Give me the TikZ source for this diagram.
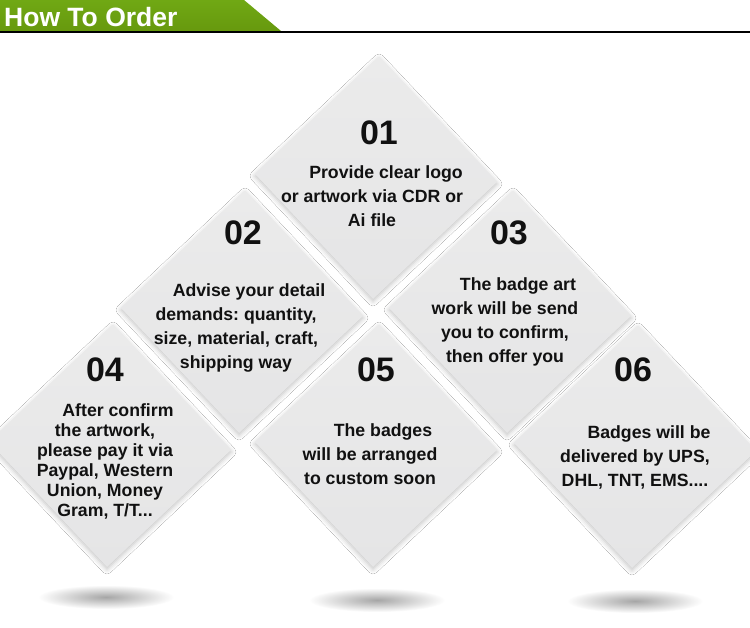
\documentclass[tikz,border=0pt]{standalone}
\usepackage{fontspec}
\setmainfont{Liberation Sans}
\usetikzlibrary{shadows.blur}
\frenchspacing
\definecolor{hdgreenA}{HTML}{70A814}
\definecolor{hdgreenB}{HTML}{67990E}
\definecolor{tileA}{HTML}{EBEBEB}
\definecolor{tileB}{HTML}{E5E5E6}
\definecolor{inkc}{HTML}{111111}
\newcommand\mytile[2]{\shade[tile] (#1+3,#2-121) -- (#1+121,#2+4) -- (#1-3,#2+121) -- (#1-121,#2-4) -- cycle;}
\begin{document}
\begin{tikzpicture}[x=1pt,y=-1pt,
  tile/.style={top color=tileA, bottom color=tileB,
    blur shadow={shadow xshift=0pt, shadow yshift=-2pt, shadow blur radius=5pt, shadow opacity=25}},
  numtxt/.style={font=\bfseries\fontsize{34}{34}\selectfont, text=inkc, inner sep=0pt},
  bodytxt/.style={font=\bfseries\fontsize{17.7}{24}\selectfont, text=inkc, align=center, inner sep=0pt},
  tighttxt/.style={bodytxt, font=\bfseries\fontsize{17.7}{20}\selectfont},
  floor/.style={inner color=black!35, outer color=white},
  headtxt/.style={font=\bfseries\fontsize{26.5}{26.5}\selectfont, text=white, inner sep=0pt, anchor=base west}]
\useasboundingbox (0,0) rectangle (750,628);
\clip (0,0) rectangle (750,628);
\fill[white] (0,0) rectangle (750,628);
% header
\shade[top color=hdgreenA, bottom color=hdgreenB] (0,0) -- (244,0) -- (281,31) -- (0,31) -- cycle;
\draw[line width=2pt, black] (0,32) -- (750,32);
\node[headtxt] (title) at (4,27) {How To Order};
% floor shadows
\shade[floor] (106,597) ellipse [x radius=68, y radius=12];
\shade[floor] (377,600) ellipse [x radius=68, y radius=12];
\shade[floor] (635,601) ellipse [x radius=68, y radius=12];
% tiles
\mytile{376}{178}
\mytile{242}{312}
\mytile{510}{312}
\mytile{110}{446}
\mytile{376}{446}
\mytile{635}{447}
% numbers
\node[numtxt] (n1) at (379,133) {01};
\node[numtxt] (n2) at (243,233) {02};
\node[numtxt] (n3) at (509,233) {03};
\node[numtxt] (n4) at (105,370) {04};
\node[numtxt] (n5) at (376,370) {05};
\node[numtxt] (n6) at (633,370) {06};
% texts
\node[bodytxt] (t1) at (372,196) {\hspace*{28pt}Provide clear logo\\or artwork via CDR or\\Ai file};
\node[bodytxt] (t2) at (236,328) {\hspace*{26pt}Advise your detail\\demands: quantity,\\size, material, craft,\\shipping way};
\node[bodytxt] (t3) at (505,322) {\hspace*{26pt}The badge art\\work will be send\\you to confirm,\\then offer you};
\node[tighttxt] (t4) at (105,461) {\hspace*{26pt}After confirm\\the artwork,\\please pay it via\\Paypal, Western\\Union, Money\\Gram, T/T...};
\node[bodytxt] (t5) at (370,454) {\hspace*{26pt}The badges\\will be arranged\\to custom soon};
\node[bodytxt] (t6) at (635,457) {\hspace*{28pt}Badges will be\\delivered by UPS,\\DHL, TNT, EMS....};
\end{tikzpicture}
\end{document}
